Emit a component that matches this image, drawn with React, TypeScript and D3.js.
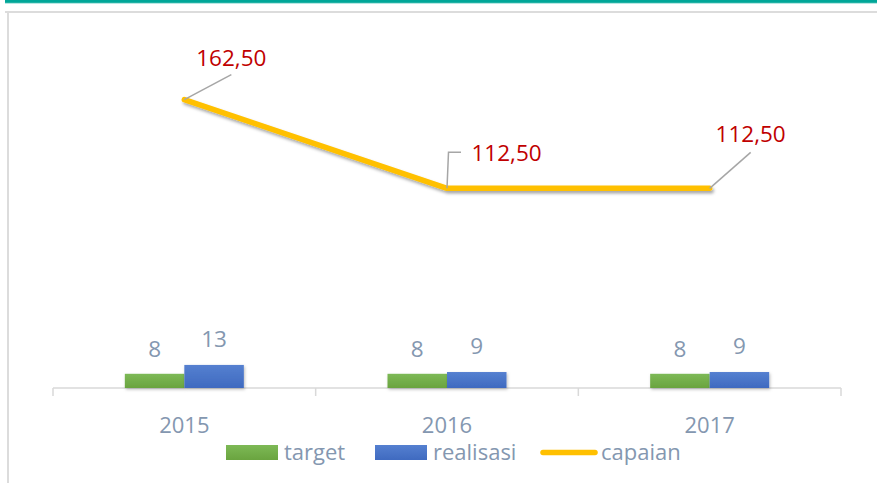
import React from "react";
import * as d3 from "d3";

const categories = ["2015", "2016", "2017"];
const targetValues = [8, 8, 8];
const realisasiValues = [13, 9, 9];
const capaianValues = [162.5, 112.5, 112.5];
const capaianLabels = ["162,50", "112,50", "112,50"];
const seriesNames = ["target", "realisasi", "capaian"];

const W = 877;
const H = 483;
const FONT = "'Open Sans', 'Segoe UI', sans-serif";
const LABEL_GREY = "#8497B0";

export default function App() {
  const x = d3.scaleBand<string>().domain(categories).range([53, 841]).paddingInner(0).paddingOuter(0);
  const y = d3.scaleLinear().domain([0, 180]).range([388, 388 - 180 * 1.775]);
  const barW = 59.5;
  const center = (c: string) => (x(c) as number) + x.bandwidth() / 2;

  const line = d3
    .line<number>()
    .x((_, i) => center(categories[i]))
    .y((d) => y(d));

  const labelOffsets = [
    { lx: 47, ly: -34, anchor: "middle", leader: (px: number, py: number) => `M${px},${py} L${px + 47},${py - 25}` },
    { lx: 24.5, ly: -27, anchor: "start", leader: (px: number, py: number) => `M${px},${py} L${px + 1.5},${py - 36} L${px + 14},${py - 36}` },
    { lx: 41, ly: -46, anchor: "middle", leader: (px: number, py: number) => `M${px},${py} L${px + 41},${py - 36}` },
  ];

  const ticks = [...categories.map((c) => x(c) as number), 841];

  return (
    <svg
      width={W}
      height={H}
      style={{ position: "absolute", left: 0, top: 0, background: "#fff" }}
      fontFamily={FONT}
    >
      <defs>
        <linearGradient id="gGreen" x1="0" y1="0" x2="0" y2="1">
          <stop offset="0" stopColor="#7DB956" />
          <stop offset="1" stopColor="#6AA43F" />
        </linearGradient>
        <linearGradient id="gBlue" x1="0" y1="0" x2="0" y2="1">
          <stop offset="0" stopColor="#5580D0" />
          <stop offset="1" stopColor="#3F6AC0" />
        </linearGradient>
        <filter id="shadow" x="-10%" y="-30%" width="130%" height="180%">
          <feDropShadow dx="1.5" dy="2.5" stdDeviation="1.8" floodColor="#000" floodOpacity="0.35" />
        </filter>
        <filter id="bshadow" x="-10%" y="-30%" width="130%" height="180%">
          <feDropShadow dx="1" dy="1.5" stdDeviation="1.5" floodColor="#000" floodOpacity="0.25" />
        </filter>
      </defs>

      <rect x={5} y={0} width={W - 5} height={3} fill="#00A698" />
      <line x1={5} y1={3.2} x2={W} y2={3.2} stroke="#7FD3CB" strokeWidth={0.8} />
      <line x1={5} y1={12} x2={W} y2={12} stroke="#DCDCDC" strokeWidth={2} />
      <line x1={8} y1={12} x2={8} y2={H} stroke="#DCDCDC" strokeWidth={2} />

      <line x1={53} y1={388} x2={841} y2={388} stroke="#D9D9D9" strokeWidth={1.5} />
      {ticks.map((t, i) => (
        <line key={i} x1={t} y1={388} x2={t} y2={396} stroke="#D9D9D9" strokeWidth={1.5} />
      ))}
      {categories.map((c) => (
        <text key={c} x={center(c)} y={433} textAnchor="middle" fontSize={22} fill={LABEL_GREY}>
          {c}
        </text>
      ))}

      {categories.map((c, i) => {
        const cx = center(c);
        return (
          <g key={c}>
            <rect
              x={cx - barW}
              y={y(targetValues[i])}
              width={barW}
              height={y(0) - y(targetValues[i])}
              fill="url(#gGreen)"
              filter="url(#bshadow)"
            />
            <rect
              x={cx}
              y={y(realisasiValues[i])}
              width={barW}
              height={y(0) - y(realisasiValues[i])}
              fill="url(#gBlue)"
              filter="url(#bshadow)"
            />
            <text x={cx - barW / 2} y={y(targetValues[i]) - 17} textAnchor="middle" fontSize={22.5} fill={LABEL_GREY}>
              {targetValues[i]}
            </text>
            <text x={cx + barW / 2} y={y(realisasiValues[i]) - 18} textAnchor="middle" fontSize={22.5} fill={LABEL_GREY}>
              {realisasiValues[i]}
            </text>
          </g>
        );
      })}

      <path
        d={line(capaianValues) as string}
        fill="none"
        stroke="#FFC000"
        strokeWidth={5.5}
        strokeLinecap="round"
        strokeLinejoin="round"
        filter="url(#shadow)"
      />

      {categories.map((c, i) => {
        const px = center(c);
        const py = y(capaianValues[i]);
        const o = labelOffsets[i];
        return (
          <g key={c}>
            <path d={o.leader(px, py)} fill="none" stroke="#A6A6A6" strokeWidth={1.5} />
            <text x={px + o.lx} y={py + o.ly} textAnchor={o.anchor} fontSize={22.5} fill="#C00000">
              {capaianLabels[i]}
            </text>
          </g>
        );
      })}

      <g>
        <rect x={226} y={445} width={52} height={15} fill="url(#gGreen)" />
        <text x={284} y={460} fontSize={22} fill={LABEL_GREY}>
          {seriesNames[0]}
        </text>
        <rect x={375} y={445} width={52} height={15} fill="url(#gBlue)" />
        <text x={433} y={460} fontSize={22} fill={LABEL_GREY}>
          {seriesNames[1]}
        </text>
        <line x1={543} y1={452.5} x2={595} y2={452.5} stroke="#FFC000" strokeWidth={5.5} strokeLinecap="round" />
        <text x={601} y={460} fontSize={22} fill={LABEL_GREY}>
          {seriesNames[2]}
        </text>
      </g>
    </svg>
  );
}
